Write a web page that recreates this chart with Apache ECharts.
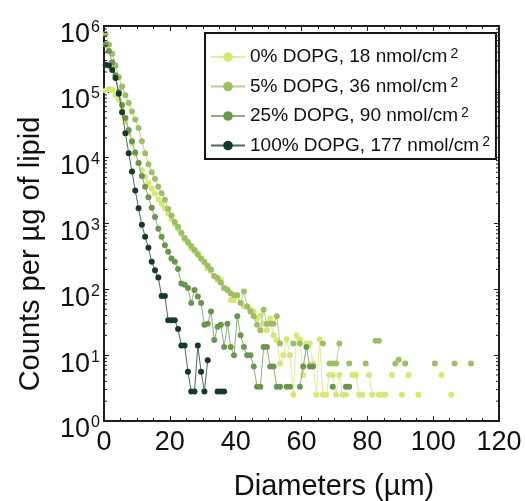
<!DOCTYPE html>
<html>
<head>
<meta charset="utf-8">
<script src="https://cdn.jsdelivr.net/npm/echarts@6/dist/echarts.min.js"></script>
<style>html,body{margin:0;padding:0;background:#fff}#c{width:525px;height:501px}</style>
</head>
<body>
<div id="c"></div>
<script>
// ---- data (counts per µg of lipid, 1-µm bins; null = empty bin) ----
const binStart = 0.5; // centre of the first 1 µm bin
const seriesNames = ['0% DOPG, 18 nmol/cm', '5% DOPG, 36 nmol/cm', '25% DOPG, 90 nmol/cm', '100% DOPG, 177 nmol/cm'];
const xTicks = [0, 20, 40, 60, 80, 100, 120];

const dopg0 = [105000, 110000, 107000, 89000, 75900, 52500, 35500, 24000, 16600, 11500,
  8300, 6460, 5130, 4070, 3390, 2820, 2340, 2000, 1700, 1410,
  1170, 977, 832, 692, 575, 501, 417, 380, 355, 295,
  251, 209, 186, 158, 138, 138, 105, 100, 69, 69,
  81, 63, 55, 55, 49, 46, 36, 40, 30, 24,
  36, 20, 17, 7.5, 10, 17.5, 10, 2.5, 20, 17.5,
  5, 15, 15, 7.5, 2.5, 17.5, 2.5, 2.5, 5, 5,
  2.5, 5, 2.5, 2.5, null, 5, 5, 2.5, 2.5, null,
  5, 2.5, null, 2.5, 2.5, 2.5, null, 5, null, null,
  2.5, null, 5, null, null, 2.5, null, null, null, null,
  null, null, 5, null, null, 2.5];

const dopg5 = [759000, 525000, 380000, 251000, 166000, 120000, 89000, 67600, 50100, 38000,
  28200, 17800, 11700, 7940, 6030, 4790, 3630, 2880, 2290, 1660,
  1320, 1050, 891, 724, 603, 525, 457, 398, 339, 295,
  263, 229, 200, 158, 148, 126, 105, 98, 87, 81,
  81, 62, 93, 55, 46, 39, 29, 24, 49, 30,
  30, 30, 39, 15, null, null, null, 15, null, 15,
  null, null, null, null, null, null, 15, null, 7.5, 7.5,
  7.5, 15, null, null, 7.5, null, null, null, null, 7.5,
  null, null, 16.5, 16.5, null, null, null, null, 7.5, 8.5,
  null, 7.5, null, null, null, null, null, null, null, null,
  7.5, null, null, null, null, null, 7.5, null, null, null,
  null, 7.5];

const dopg25 = [525000, 417000, 282000, 178000, 100000, 63000, 40000, 26300, 17800, 12000,
  8300, 5250, 3630, 2510, 1740, 1260, 832, 631, 468, 372,
  295, 263, 204, 123, 117, 105, 62, 98, 78, 62,
  29, 30, 46, 17, 27, 29, 13.3, 30, 13.3, 10,
  39, 20, 13.3, 10, 10, 6.7, 3.3, 3.3, 13.3, 13.3,
  6.7, 6.7, 3.3, 3.3, null, 3.3, 3.3, null, null, 3.3,
  6.7, 13.3, 6.7, 6.7, null, null, null, null, null, 3.3,
  null, null, null, 3.3, 3.3];

const dopg100 = [257000, 251000, 214000, 162000, 93300, 49000, 23400, 11700, 6170, 3160,
  1700, 955, 631, 427, 263, 195, 151, 79, 79, 34,
  34, 34, 25, 14, 14, 5.6, 2.8, 2.8, 14, 5.6,
  2.8, 8.4, null, null, 2.8, 2.8, 2.8];

const seriesValues = [dopg0, dopg5, dopg25, dopg100];
const seriesColors = ['#d6e67a', '#9cbf66', '#6a9650', '#173a27'];
const lineColors = ['#e0eca0', '#b5d08e', '#8fae7c', '#4d6b5a'];

// ---- chart ----
const FONT = '"Liberation Sans", Arial, sans-serif';
const AX = '#1e1e1e';
const chart = echarts.init(document.getElementById('c'), null, {renderer: 'canvas'});

const toPairs = arr => arr.map((v, i) => [binStart + i, v == null ? '-' : v]);

const logMinor = [];
for (let e = 0; e < 6; e++) for (let m = 2; m <= 9; m++) logMinor.push([0, m * Math.pow(10, e)]);

const lineSeries = seriesNames.map((name, k) => ({
  name, type: 'line', data: toPairs(seriesValues[k]),
  symbol: 'circle', symbolSize: 6, showSymbol: true, connectNulls: false,
  itemStyle: {color: seriesColors[k]},
  lineStyle: {color: lineColors[k], width: 1},
  emphasis: {disabled: true}, animation: false, z: 3 + k
}));

const minorTickSeries = {
  type: 'custom', silent: true, animation: false, data: logMinor, encode: {x: 0, y: 1}, z: 10,
  renderItem: (params, api) => {
    const v = api.value(1);
    const pl = api.coord([0, v]);
    const pr = api.coord([120, v]);
    return {type: 'group', children: [
      {type: 'line', shape: {x1: pl[0], y1: pl[1], x2: pl[0] + 3, y2: pl[1]}, style: {stroke: AX, lineWidth: 1}},
      {type: 'line', shape: {x1: pr[0], y1: pr[1], x2: pr[0] - 3, y2: pr[1]}, style: {stroke: AX, lineWidth: 1}}
    ]};
  }
};

const xBase = {
  type: 'value', min: xTicks[0], max: xTicks[xTicks.length - 1], interval: xTicks[1] - xTicks[0],
  axisLine: {show: true, onZero: false, lineStyle: {color: AX, width: 2}},
  axisTick: {show: true, inside: true, length: 5, lineStyle: {color: AX, width: 1}},
  minorTick: {show: true, splitNumber: 4, length: 3, lineStyle: {color: AX, width: 1}},
  splitLine: {show: false}, minorSplitLine: {show: false}
};
const yBase = {
  type: 'log', logBase: 10, min: 1, max: 1000000, splitNumber: 6,
  axisLine: {show: true, onZero: false, lineStyle: {color: AX, width: 2}},
  axisTick: {show: true, inside: true, length: 5, lineStyle: {color: AX, width: 1}},
  splitLine: {show: false}
};

chart.setOption({
  animation: false,
  backgroundColor: '#fff',
  grid: {left: 104, top: 26, width: 395, height: 395, containLabel: false},
  xAxis: [
    Object.assign({}, xBase, {position: 'bottom',
      axisLabel: {show: true, fontFamily: FONT, fontSize: 27, color: '#111', margin: 8}}),
    Object.assign({}, xBase, {position: 'top', axisLabel: {show: false}})
  ],
  yAxis: [
    Object.assign({}, yBase, {position: 'left',
      axisLabel: {show: true, margin: 4, fontFamily: FONT, color: '#111', padding: [18, 0, 0, 0],
        formatter: v => '{b|10}{s|' + Math.round(Math.log10(v)) + '}',
        rich: {b: {fontSize: 27, fontFamily: FONT, color: '#111', lineHeight: 30},
               s: {fontSize: 16, fontFamily: FONT, color: '#111', verticalAlign: 'top', lineHeight: 30, padding: [0, 0, 0, 1]}}}}),
    Object.assign({}, yBase, {position: 'right', axisLabel: {show: false}})
  ],
  legend: {
    data: seriesNames, orient: 'vertical', left: 205, top: 33,
    itemWidth: 34, itemHeight: 12, itemGap: 10,
    padding: [14, 6, 4, 5], borderColor: '#151515', borderWidth: 2, backgroundColor: '#fff',
    selectedMode: false,
    formatter: name => '{t|' + name + '}{s|2}',
    textStyle: {fontFamily: FONT, color: '#111',
      rich: {t: {fontSize: 19, fontFamily: FONT, color: '#111', lineHeight: 20},
             s: {fontSize: 14, fontFamily: FONT, color: '#111', verticalAlign: 'top', lineHeight: 20, padding: [0, 0, 0, 3]}}}
  },
  graphic: [
    {type: 'text', x: 31, y: 254, rotation: Math.PI / 2,
     style: {text: 'Counts per µg of lipid', font: '29px ' + FONT, fill: '#111', textAlign: 'center', textVerticalAlign: 'middle'}},
    {type: 'text', x: 334, y: 487,
     style: {text: 'Diameters (µm)', font: '29px ' + FONT, fill: '#111', textAlign: 'center', textVerticalAlign: 'middle'}}
  ],
  series: lineSeries.concat([minorTickSeries])
});
</script>
</body>
</html>
